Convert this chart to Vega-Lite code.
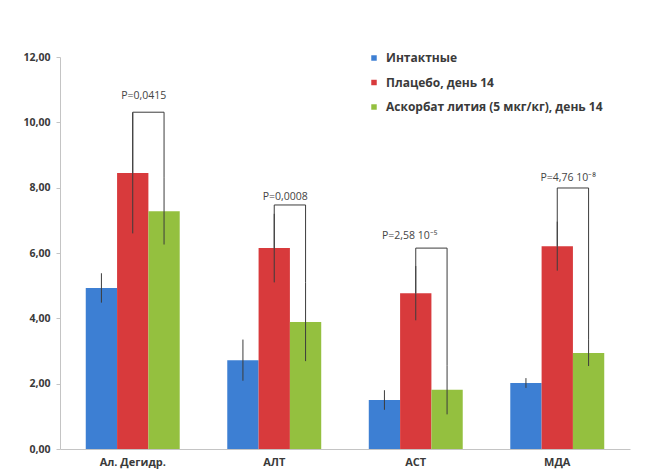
{
  "$schema": "https://vega.github.io/schema/vega-lite/v6.json",
  "autosize": {"type": "none"},
  "width": 570,
  "height": 392,
  "padding": {"left": 60, "top": 57, "right": 29, "bottom": 23},
  "background": "white",
  "config": {
    "view": {"stroke": null},
    "font": "Open Sans",
    "axis": {"labelFont": "Open Sans", "labelFontWeight": "bold", "labelColor": "#3a3a3a"}
  },
  "datasets": {
    "bars": [
      {"category": "Ал. Дегидр.", "group": "Интактные", "value": 4.93, "err": 0.45},
      {"category": "Ал. Дегидр.", "group": "Плацебо, день 14", "value": 8.45, "err": 1.85},
      {"category": "Ал. Дегидр.", "group": "Аскорбат лития (5 мкг/кг), день 14", "value": 7.28, "err": 1.02},
      {"category": "АЛТ", "group": "Интактные", "value": 2.72, "err": 0.63},
      {"category": "АЛТ", "group": "Плацебо, день 14", "value": 6.15, "err": 1.05},
      {"category": "АЛТ", "group": "Аскорбат лития (5 мкг/кг), день 14", "value": 3.89, "err": 1.2},
      {"category": "АСТ", "group": "Интактные", "value": 1.5, "err": 0.3},
      {"category": "АСТ", "group": "Плацебо, день 14", "value": 4.77, "err": 0.83},
      {"category": "АСТ", "group": "Аскорбат лития (5 мкг/кг), день 14", "value": 1.81, "err": 0.75},
      {"category": "МДА", "group": "Интактные", "value": 2.02, "err": 0.15},
      {"category": "МДА", "group": "Плацебо, день 14", "value": 6.21, "err": 0.75},
      {"category": "МДА", "group": "Аскорбат лития (5 мкг/кг), день 14", "value": 2.94, "err": 0.4}
    ],
    "brackets": [
      {"category": "Ал. Дегидр.", "group": "Плацебо, день 14", "y": 8.45, "step": 1},
      {"category": "Ал. Дегидр.", "group": "Плацебо, день 14", "y": 10.31, "step": 2},
      {"category": "Ал. Дегидр.", "group": "Аскорбат лития (5 мкг/кг), день 14", "y": 10.31, "step": 3},
      {"category": "Ал. Дегидр.", "group": "Аскорбат лития (5 мкг/кг), день 14", "y": 8.3, "step": 4},
      {"category": "АЛТ", "group": "Плацебо, день 14", "y": 6.15, "step": 1},
      {"category": "АЛТ", "group": "Плацебо, день 14", "y": 7.47, "step": 2},
      {"category": "АЛТ", "group": "Аскорбат лития (5 мкг/кг), день 14", "y": 7.47, "step": 3},
      {"category": "АЛТ", "group": "Аскорбат лития (5 мкг/кг), день 14", "y": 5.09, "step": 4},
      {"category": "АСТ", "group": "Плацебо, день 14", "y": 4.77, "step": 1},
      {"category": "АСТ", "group": "Плацебо, день 14", "y": 6.15, "step": 2},
      {"category": "АСТ", "group": "Аскорбат лития (5 мкг/кг), день 14", "y": 6.15, "step": 3},
      {"category": "АСТ", "group": "Аскорбат лития (5 мкг/кг), день 14", "y": 2.56, "step": 4},
      {"category": "МДА", "group": "Плацебо, день 14", "y": 6.21, "step": 1},
      {"category": "МДА", "group": "Плацебо, день 14", "y": 7.99, "step": 2},
      {"category": "МДА", "group": "Аскорбат лития (5 мкг/кг), день 14", "y": 7.99, "step": 3},
      {"category": "МДА", "group": "Аскорбат лития (5 мкг/кг), день 14", "y": 3.34, "step": 4}
    ],
    "pvalues": [
      {"category": "Ал. Дегидр.", "group": "Плацебо, день 14", "y": 10.8, "label": "P=0,0415", "shift": "right"},
      {"category": "АЛТ", "group": "Плацебо, день 14", "y": 7.71, "label": "P=0,0008", "shift": "right"},
      {"category": "АСТ", "group": "Плацебо, день 14", "y": 6.52, "label": "P=2,58 10⁻⁵", "shift": "left"},
      {"category": "МДА", "group": "Плацебо, день 14", "y": 8.3, "label": "P=4,76 10⁻⁸", "shift": "right"}
    ]
  },
  "encoding": {
    "x": {
      "field": "category",
      "type": "nominal",
      "sort": ["Ал. Дегидр.", "АЛТ", "АСТ", "МДА"],
      "scale": {"paddingInner": 0.336, "paddingOuter": 0.182},
      "axis": {
        "title": null,
        "labelAngle": 0,
        "ticks": false,
        "domainColor": "#c4c4c4",
        "labelFontSize": 11,
        "labelPadding": 7
      }
    },
    "xOffset": {
      "field": "group",
      "type": "nominal",
      "sort": ["Интактные", "Плацебо, день 14", "Аскорбат лития (5 мкг/кг), день 14"],
      "scale": {"paddingInner": 0, "paddingOuter": 0}
    }
  },
  "layer": [
    {
      "data": {"name": "bars"},
      "mark": {"type": "bar"},
      "encoding": {
        "y": {
          "field": "value",
          "type": "quantitative",
          "scale": {"domain": [0, 12], "nice": false},
          "axis": {
            "title": null,
            "values": [0, 2, 4, 6, 8, 10, 12],
            "format": ".2f",
            "labelExpr": "replace(datum.label, '.', ',')",
            "grid": false,
            "domainColor": "#c4c4c4",
            "tickColor": "#c4c4c4",
            "tickSize": 4,
            "labelFontSize": 10.5,
            "labelPadding": 6
          }
        },
        "color": {
          "field": "group",
          "type": "nominal",
          "sort": ["Интактные", "Плацебо, день 14", "Аскорбат лития (5 мкг/кг), день 14"],
          "scale": {"range": ["#3d7fd3", "#d83a3c", "#94c03f"]},
          "legend": {
            "title": null,
            "orient": "none",
            "legendX": 308,
            "legendY": -5,
            "symbolType": "square",
            "symbolSize": 30,
            "symbolStrokeWidth": 0,
            "labelFont": "Open Sans",
            "labelFontWeight": "bold",
            "labelFontSize": 12,
            "labelColor": "#3a3a3a",
            "labelLimit": 0,
            "rowPadding": 12.5,
            "labelOffset": 6
          }
        }
      }
    },
    {
      "data": {"name": "bars"},
      "transform": [
        {"calculate": "datum.value - datum.err", "as": "lo"},
        {"calculate": "datum.value + datum.err", "as": "hi"}
      ],
      "mark": {"type": "rule", "color": "#3c3c3c", "strokeWidth": 1},
      "encoding": {
        "y": {"field": "lo", "type": "quantitative"},
        "y2": {"field": "hi"}
      }
    },
    {
      "data": {"name": "brackets"},
      "mark": {"type": "line", "color": "#3c3c3c", "strokeWidth": 1, "interpolate": "linear"},
      "encoding": {
        "y": {"field": "y", "type": "quantitative"},
        "order": {"field": "step", "type": "quantitative"},
        "detail": {"field": "category"}
      }
    },
    {
      "data": {"name": "pvalues"},
      "transform": [{"filter": "datum.shift == 'right'"}],
      "mark": {"type": "text", "fontSize": 10.5, "color": "#444444", "dx": 11, "baseline": "middle"},
      "encoding": {
        "y": {"field": "y", "type": "quantitative"},
        "text": {"field": "label"}
      }
    },
    {
      "data": {"name": "pvalues"},
      "transform": [{"filter": "datum.shift == 'left'"}],
      "mark": {"type": "text", "fontSize": 10.5, "color": "#444444", "dx": -6, "baseline": "middle"},
      "encoding": {
        "y": {"field": "y", "type": "quantitative"},
        "text": {"field": "label"}
      }
    }
  ]
}
